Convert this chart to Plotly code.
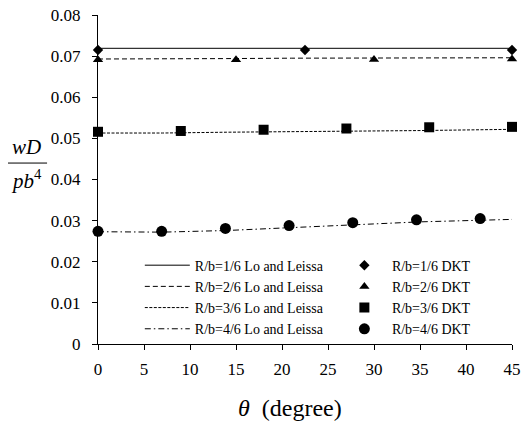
import plotly.graph_objects as go

# Lo and Leissa (lines)
line_x = [0, 7, 14, 21, 28, 35, 45]
line_1 = [0.0719, 0.0719, 0.0719, 0.0719, 0.0719, 0.0719, 0.0719]
line_2 = [0.0693, 0.0693, 0.0694, 0.0695, 0.0695, 0.0695, 0.0696]
line_3 = [0.0513, 0.0513, 0.0515, 0.0516, 0.0518, 0.0519, 0.0522]
line_4 = [0.0273, 0.0272, 0.0276, 0.0283, 0.0290, 0.0297, 0.0303]

# DKT (markers)
dkt1_x = [0, 22.5, 45]
dkt1_y = [0.0715, 0.0715, 0.0715]
dkt2_x = [0, 15, 30, 45]
dkt2_y = [0.0691, 0.0691, 0.0692, 0.0693]
dkt3_x = [0, 9, 18, 27, 36, 45]
dkt3_y = [0.0516, 0.0518, 0.0521, 0.0524, 0.0527, 0.0528]
dkt4_x = [0, 6.92, 13.85, 20.77, 27.69, 34.62, 41.54]
dkt4_y = [0.0274, 0.0274, 0.0281, 0.0288, 0.0295, 0.0302, 0.0305]

names_line = ["R/b=1/6 Lo and Leissa", "R/b=2/6 Lo and Leissa",
              "R/b=3/6 Lo and Leissa", "R/b=4/6 Lo and Leissa"]
names_dkt = ["R/b=1/6 DKT", "R/b=2/6 DKT", "R/b=3/6 DKT", "R/b=4/6 DKT"]

lines = [line_1, line_2, line_3, line_4]
dashes = ["solid", "5px,3px", "3px,1.5px", "6px,3px,1.5px,3px"]
dkts = [(dkt1_x, dkt1_y), (dkt2_x, dkt2_y), (dkt3_x, dkt3_y), (dkt4_x, dkt4_y)]
symbols = ["diamond", "triangle-up", "square", "circle"]
sizes = [8, 9, 10, 11]

fig = go.Figure()
for i in range(4):
    fig.add_trace(go.Scatter(x=line_x, y=lines[i], mode="lines", name=names_line[i],
                             line=dict(color="black", width=1, dash=dashes[i]),
                             cliponaxis=False, legend="legend"))
for i in range(4):
    fig.add_trace(go.Scatter(x=dkts[i][0], y=dkts[i][1], mode="markers", name=names_dkt[i],
                             marker=dict(color="black", symbol=symbols[i], size=sizes[i]),
                             cliponaxis=False, legend="legend2"))

font = "Liberation Serif"
leg_common = dict(orientation="v", yanchor="top", xanchor="left",
                  font=dict(size=14, family=font, color="black"),
                  bgcolor="rgba(0,0,0,0)", itemwidth=45, borderwidth=0)
fig.update_layout(
    width=522, height=415,
    margin=dict(l=90, r=18, t=7, b=79),
    paper_bgcolor="white", plot_bgcolor="white",
    font=dict(family=font, size=17, color="black"),
    showlegend=True,
    legend=dict(x=0.101, y=0.287, **leg_common),
    legend2=dict(x=0.577, y=0.287, **leg_common),
    xaxis=dict(range=[0, 45], tickmode="array", tickvals=[0, 5, 10, 15, 20, 25, 30, 35, 40, 45],
               showgrid=False, zeroline=False, showline=True, linecolor="black", linewidth=1,
               ticks="outside", ticklen=5, tickcolor="black", automargin=False,
               ticklabelstandoff=5, ticklabeloverflow="allow"),
    yaxis=dict(range=[0, 0.08], tickmode="array",
               tickvals=[0, 0.01, 0.02, 0.03, 0.04, 0.05, 0.06, 0.07, 0.08],
               ticktext=["0", "0.01", "0.02", "0.03", "0.04", "0.05", "0.06", "0.07", "0.08"],
               showgrid=False, zeroline=False, showline=True, linecolor="black", linewidth=1,
               ticks="outside", ticklen=5, tickcolor="black", automargin=False,
               ticklabelstandoff=8, ticklabeloverflow="allow"),
)

# x-axis title
fig.add_annotation(xref="paper", yref="paper", x=0.464, y=-0.195, xanchor="center", yanchor="middle",
                   text="<i>θ</i>  (degree)", showarrow=False, font=dict(size=24, family=font))

# y-axis title as a fraction wD / pb^4
fig.add_annotation(xref="paper", yref="paper", x=-0.172, y=0.599, xanchor="center", yanchor="middle",
                   text="<i>wD</i>", showarrow=False, font=dict(size=21, family=font))
fig.add_annotation(xref="paper", yref="paper", x=-0.172, y=0.50, xanchor="center", yanchor="middle",
                   text="<i>pb</i><sup>4</sup>", showarrow=False, font=dict(size=21, family=font))
fig.add_shape(type="line", xref="paper", yref="paper", x0=-0.222, x1=-0.123, y0=0.55, y1=0.55,
              line=dict(color="black", width=1))

fig.write_html("out.html")
